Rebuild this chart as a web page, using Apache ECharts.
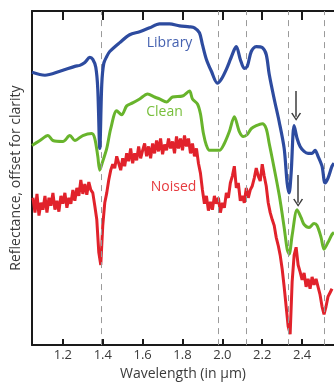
<!DOCTYPE html>
<html>
<head>
<meta charset="utf-8">
<script src="https://cdn.jsdelivr.net/npm/echarts@6/dist/echarts.min.js"></script>
<style>html,body{margin:0;padding:0;background:#fff}#c{width:334px;height:386px}</style>
</head>
<body>
<div id="c"></div>
<script>
// Wavelength tick labels (µm)
const tickValues = [1.2, 1.4, 1.6, 1.8, 2.0, 2.2, 2.4];
// Absorption features marked with dashed lines (µm)
const featureLines = [1.385, 1.98, 2.115, 2.335, 2.51];

// Library spectrum (offset reflectance, arbitrary units)
const libraryWl = [1.045,1.11,1.185,1.26,1.285,1.31,1.335,1.35,1.365,1.375,1.385,1.395,1.405,1.42,1.435,1.485,1.535,1.585,1.635,1.685,1.735,1.785,1.835,1.86,1.885,1.9,1.92,1.945,1.975,1.995,2.02,2.04,2.06,2.07,2.09,2.11,2.125,2.145,2.17,2.2,2.22,2.235,2.26,2.285,2.31,2.325,2.335,2.345,2.36,2.375,2.39,2.41,2.43,2.45,2.465,2.48,2.5,2.515,2.53,2.55,2.56];
const libraryVal = [276,273,277,282,283,286,291,289,281,259,199,264,285,292,297,306,314,317,321,325,325,323,322,321,316,304,289,277,265,269,279,289,299,302,289,280,282,297,302,301,294,274,249,226,199,164,154,174,222,209,201,196,194,194,197,191,181,164,169,181,184];

// Clean spectrum
const cleanWl = [1.045,1.085,1.125,1.15,1.2,1.235,1.26,1.3,1.345,1.36,1.375,1.385,1.4,1.42,1.44,1.47,1.495,1.52,1.55,1.585,1.625,1.66,1.685,1.72,1.75,1.8,1.835,1.85,1.875,1.89,1.905,1.92,1.935,1.96,1.985,2.01,2.035,2.06,2.085,2.105,2.125,2.145,2.17,2.2,2.22,2.235,2.25,2.285,2.31,2.325,2.335,2.35,2.375,2.395,2.41,2.435,2.46,2.475,2.495,2.51,2.53,2.55,2.56];
const cleanVal = [202,207,212,207,206,212,207,212,214,209,191,177,186,199,219,237,233,242,245,249,254,251,249,246,251,252,257,249,244,234,214,202,197,197,197,204,216,231,216,211,213,219,222,224,219,204,189,152,119,97,92,111,137,129,122,119,123,121,109,97,104,112,114];

// Noised spectrum
const noisedWl = [1.05,1.06,1.07,1.08,1.09,1.10,1.11,1.12,1.13,1.14,1.15,1.16,1.17,1.18,1.19,1.20,1.21,1.22,1.23,1.24,1.25,1.26,1.27,1.28,1.29,1.30,1.31,1.32,1.33,1.34,1.35,1.36,1.37,1.38,1.39,1.40,1.41,1.42,1.43,1.44,1.45,1.46,1.47,1.48,1.49,1.50,1.51,1.52,1.53,1.54,1.55,1.56,1.57,1.58,1.59,1.60,1.61,1.62,1.63,1.64,1.65,1.66,1.67,1.68,1.69,1.70,1.71,1.72,1.73,1.74,1.75,1.76,1.77,1.78,1.79,1.80,1.81,1.82,1.83,1.84,1.85,1.86,1.87,1.88,1.89,1.90,1.91,1.92,1.93,1.94,1.95,1.96,1.97,1.98,1.99,2.00,2.01,2.02,2.03,2.04,2.05,2.06,2.07,2.08,2.09,2.10,2.11,2.12,2.13,2.14,2.15,2.16,2.17,2.18,2.19,2.20,2.21,2.22,2.23,2.24,2.25,2.26,2.27,2.28,2.29,2.30,2.31,2.32,2.33,2.34,2.35,2.36,2.37,2.38,2.39,2.40,2.41,2.42,2.43,2.44,2.45,2.46,2.47,2.48,2.49,2.50,2.51,2.52,2.53,2.54,2.55];
const noisedVal = [149,134,153,131,144,137,151,134,149,141,154,137,146,135,151,143,154,139,149,143,157,146,159,151,167,153,163,152,165,157,154,141,127,94,81,121,144,154,167,177,183,179,191,184,177,189,181,194,186,199,184,194,187,201,189,197,204,191,201,189,204,194,207,196,209,193,203,197,209,199,206,194,211,199,209,197,212,201,209,194,204,191,199,184,174,157,143,151,136,145,137,151,143,149,134,144,139,154,149,164,171,181,159,164,146,151,144,159,149,157,161,169,179,171,166,183,171,161,144,134,127,121,109,101,91,77,59,39,19,11,64,91,99,81,74,66,73,59,67,57,69,61,67,59,51,39,31,39,49,53,57];

// Arrows marking the 2.37 µm feature
const arrowWl = [2.37, 2.38];
const arrowFrom = [257, 172];
const arrowTo = [231, 144];

// Curve labels
const labelNames = ['Library', 'Clean', 'Noised'];
const labelWl = [1.735, 1.71, 1.755];
const labelVal = [306, 236, 160];

const colors = ['#2d4b9f', '#68b42c', '#e1222b'];
const textColors = ['#4561b0', '#78bf3c', '#e63a3e'];

const pair = (xs, ys) => xs.map((x, i) => [x, ys[i]]);

const chevron = 'path://M0,9 L5,0 L10,9 L8.6,9.6 L5,2.8 L1.4,9.6 Z';

const chart = echarts.init(document.getElementById('c'), null, {renderer: 'canvas'});
const font = '"Open Sans", "Noto Sans", sans-serif';

chart.setOption({
  animation: false,
  backgroundColor: '#fff',
  grid: {left: 32, right: -1, top: 11, bottom: 37, containLabel: false},
  xAxis: [{
    type: 'value', min: 1.045, max: 2.56, position: 'bottom',
    axisLine: {show: true, onZero: false, lineStyle: {color: '#1a1a1a', width: 2}},
    axisTick: {show: true, inside: true, length: 6, customValues: tickValues, lineStyle: {color: '#1a1a1a', width: 2}},
    axisLabel: {show: true, customValues: tickValues, margin: 4, color: '#3a3a3a', fontSize: 13, fontFamily: font,
      formatter: v => v.toFixed(1)},
    splitLine: {show: false},
    name: 'Wavelength (in µm)', nameLocation: 'middle', nameGap: 21,
    nameTextStyle: {color: '#3a3a3a', fontSize: 14, fontFamily: font}
  }, {
    type: 'value', min: 1.045, max: 2.56, position: 'top',
    axisLine: {show: true, onZero: false, lineStyle: {color: '#1a1a1a', width: 2}},
    axisTick: {show: true, inside: true, length: 9, customValues: tickValues, lineStyle: {color: '#1a1a1a', width: 2}},
    axisLabel: {show: false},
    splitLine: {show: false}
  }],
  yAxis: {
    type: 'value', min: 0, max: 338,
    axisLine: {show: true, onZero: false, lineStyle: {color: '#1a1a1a', width: 2}},
    axisTick: {show: false}, axisLabel: {show: false}, splitLine: {show: false},
    name: 'Reflectance, offset for clarity', nameLocation: 'middle', nameGap: 9,
    nameTextStyle: {color: '#3a3a3a', fontSize: 14, fontFamily: font}
  },
  series: [
    {
      type: 'line', data: [], z: 1, silent: true,
      markLine: {
        silent: true, symbol: ['none', 'none'], label: {show: false},
        lineStyle: {color: '#9a9a9a', width: 1, type: [6, 5]},
        data: featureLines.map(x => ({xAxis: x}))
      }
    },
    {
      name: 'Noised', type: 'line', data: pair(noisedWl, noisedVal), showSymbol: false, z: 3,
      lineStyle: {color: colors[2], width: 3}, itemStyle: {color: colors[2]}
    },
    {
      name: 'Clean', type: 'line', data: pair(cleanWl, cleanVal), showSymbol: false, z: 4, smooth: 0.3,
      lineStyle: {color: colors[1], width: 3}, itemStyle: {color: colors[1]}
    },
    {
      name: 'Library', type: 'line', data: pair(libraryWl, libraryVal), showSymbol: false, z: 5, smooth: 0.3,
      lineStyle: {color: colors[0], width: 3.2}, itemStyle: {color: colors[0]},
      markLine: {
        silent: true, symbol: ['none', chevron], symbolSize: [10, 8], label: {show: false},
        lineStyle: {color: '#3c3c3c', width: 1.5, type: 'solid'},
        data: arrowWl.map((x, i) => [{coord: [x, arrowFrom[i]]}, {coord: [x, arrowTo[i]]}])
      },
      markPoint: {
        silent: true, symbol: 'circle', symbolSize: 0,
        data: labelNames.map((n, i) => ({
          coord: [labelWl[i], labelVal[i]], value: n,
          label: {show: true, position: 'inside', formatter: n, color: textColors[i], fontSize: 14, fontFamily: font}
        }))
      }
    }
  ]
});
</script>
</body>
</html>
